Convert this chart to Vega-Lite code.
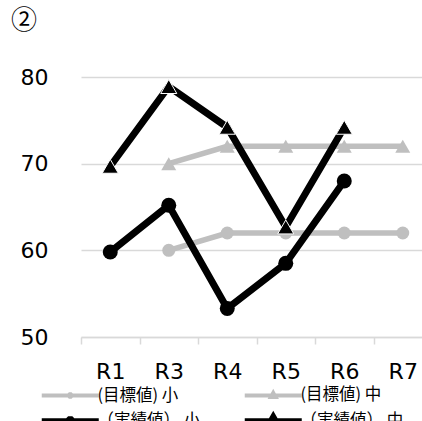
{
  "$schema": "https://vega.github.io/schema/vega-lite/v6.json",
  "autosize": {"type": "none"},
  "width": 341,
  "height": 260,
  "padding": {"left": 81, "top": 77, "right": 0, "bottom": 84},
  "background": "white",
  "title": {"text": "②", "anchor": "start", "frame": "group", "font": "Noto Sans CJK JP", "fontSize": 26, "fontWeight": "normal", "color": "#000000", "baseline": "middle", "offset": 0, "dx": -70, "dy": -19},
  "config": {"view": {"stroke": null}},
  "data": {"values": [
    {"series": "(目標値) 小", "round": "R3", "value": 60},
    {"series": "(目標値) 小", "round": "R4", "value": 62},
    {"series": "(目標値) 小", "round": "R5", "value": 62},
    {"series": "(目標値) 小", "round": "R6", "value": 62},
    {"series": "(目標値) 小", "round": "R7", "value": 62},
    {"series": "(目標値) 中", "round": "R3", "value": 70},
    {"series": "(目標値) 中", "round": "R4", "value": 72},
    {"series": "(目標値) 中", "round": "R5", "value": 72},
    {"series": "(目標値) 中", "round": "R6", "value": 72},
    {"series": "(目標値) 中", "round": "R7", "value": 72},
    {"series": "（実績値） 小", "round": "R1", "value": 59.8},
    {"series": "（実績値） 小", "round": "R3", "value": 65.2},
    {"series": "（実績値） 小", "round": "R4", "value": 53.3},
    {"series": "（実績値） 小", "round": "R5", "value": 58.5},
    {"series": "（実績値） 小", "round": "R6", "value": 68.0},
    {"series": "（実績値） 中", "round": "R1", "value": 69.7},
    {"series": "（実績値） 中", "round": "R3", "value": 78.9},
    {"series": "（実績値） 中", "round": "R4", "value": 74.2},
    {"series": "（実績値） 中", "round": "R5", "value": 62.7},
    {"series": "（実績値） 中", "round": "R6", "value": 74.2}
  ]},
  "encoding": {
    "x": {
      "field": "round", "type": "nominal", "bandPosition": 0.5,
      "scale": {"type": "band", "domain": ["R1", "R3", "R4", "R5", "R6", "R7"], "range": [0, 351], "paddingInner": 0, "paddingOuter": 0},
      "axis": {"title": null, "grid": false, "domainColor": "#d9d9d9", "domainWidth": 1.5, "tickColor": "#d9d9d9", "tickWidth": 1.5, "tickSize": 7, "tickBand": "extent", "labelFont": "DejaVu Sans", "labelFontSize": 22, "labelColor": "#000000", "labelPadding": 17, "labelAngle": 0}
    },
    "y": {
      "field": "value", "type": "quantitative",
      "scale": {"domain": [50, 80], "nice": false, "zero": false},
      "axis": {"title": null, "values": [50, 60, 70, 80], "domain": false, "ticks": false, "grid": true, "gridColor": "#d9d9d9", "gridWidth": 1.5, "labelFont": "DejaVu Sans", "labelFontSize": 22, "labelColor": "#000000", "labelPadding": 33}
    }
  },
  "layer": [
    {
      "transform": [{"filter": "datum.series === '(目標値) 小'"}],
      "mark": {"type": "line", "strokeWidth": 5.5},
      "encoding": {"color": {
        "field": "series", "type": "nominal",
        "scale": {"domain": ["(目標値) 小", "(目標値) 中", "（実績値） 小", "（実績値） 中"], "range": ["#bfbfbf", "#bfbfbf", "#000000", "#000000"]},
        "legend": {
          "title": null, "orient": "none", "legendX": -19, "legendY": 310, "columns": 2, "direction": "horizontal",
          "padding": 0, "columnPadding": 31, "rowPadding": -1,
          "labelFont": "Noto Sans CJK JP", "labelFontSize": 16.5, "labelColor": "#000000", "labelOffset": 19,
          "symbolSize": 100,
          "encode": {"symbols": {"update": {
            "shape": {"signal": "datum.index === 0 ? 'M-5.7,0L5.7,0M-0.25,-0.1L-0.1,-0.25L0.1,-0.25L0.25,-0.1L0.25,0.1L0.1,0.25L-0.1,0.25L-0.25,0.1Z' : datum.index === 1 ? 'M-5.7,0L5.7,0M0,-0.5L0.45,0.3L-0.45,0.3Z' : datum.index === 2 ? 'M-5.7,0L5.7,0M-0.4,-0.17L-0.17,-0.4L0.17,-0.4L0.4,-0.17L0.4,0.17L0.17,0.4L-0.17,0.4L-0.4,0.17Z' : 'M-5.7,0L5.7,0M0,-0.9L0.8,0.5L-0.8,0.5Z'"},
            "stroke": {"signal": "datum.index < 2 ? '#bfbfbf' : '#000000'"},
            "fill": {"signal": "datum.index < 2 ? '#bfbfbf' : '#000000'"},
            "strokeWidth": {"signal": "datum.index < 2 ? 4 : 6"}
          }}}
        }
      }}
    },
    {
      "transform": [{"filter": "datum.series === '(目標値) 小'"}],
      "mark": {"type": "point", "filled": true, "shape": "circle", "size": 169, "opacity": 1, "color": "#bfbfbf"}
    },
    {
      "transform": [{"filter": "datum.series === '(目標値) 中'"}],
      "mark": {"type": "line", "strokeWidth": 5.5},
      "encoding": {"color": {"field": "series", "type": "nominal"}}
    },
    {
      "transform": [{"filter": "datum.series === '(目標値) 中'"}],
      "mark": {"type": "point", "filled": true, "shape": "triangle-up", "size": 225, "opacity": 1, "color": "#bfbfbf"}
    },
    {
      "transform": [{"filter": "datum.series === '（実績値） 小'"}],
      "mark": {"type": "line", "strokeWidth": 7},
      "encoding": {"color": {"field": "series", "type": "nominal"}}
    },
    {
      "transform": [{"filter": "datum.series === '（実績値） 小'"}],
      "mark": {"type": "point", "filled": true, "shape": "circle", "size": 225, "opacity": 1, "color": "#000000"}
    },
    {
      "transform": [{"filter": "datum.series === '（実績値） 中'"}],
      "mark": {"type": "line", "strokeWidth": 7},
      "encoding": {"color": {"field": "series", "type": "nominal"}}
    },
    {
      "transform": [{"filter": "datum.series === '（実績値） 中'"}],
      "mark": {"type": "point", "filled": true, "shape": "triangle-up", "size": 260, "opacity": 1, "fill": "#000000", "stroke": "#ffffff", "strokeWidth": 1}
    }
  ]
}
